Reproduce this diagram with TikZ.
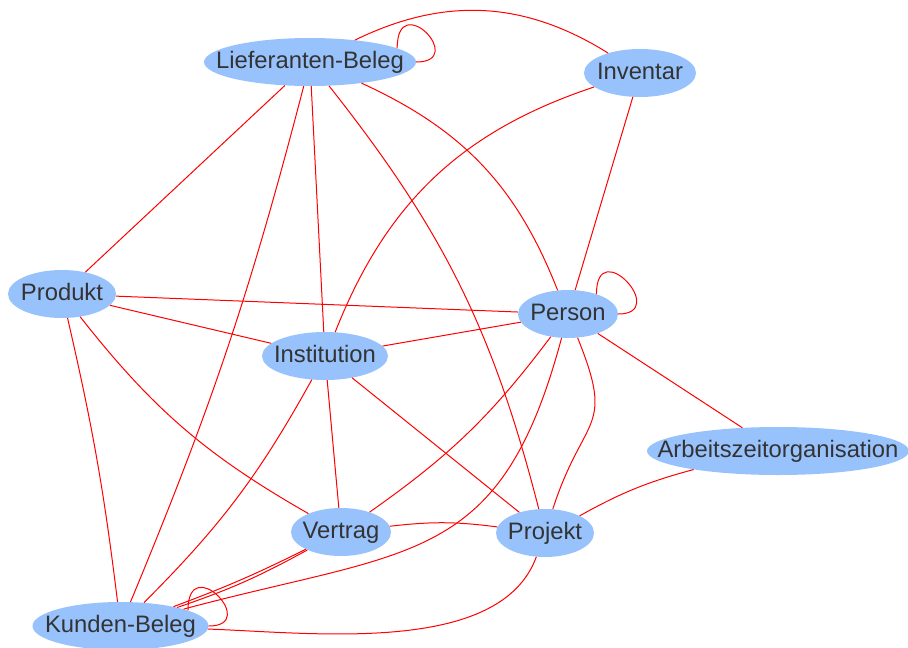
\documentclass[tikz,border=0pt]{standalone}
\usepackage{fontspec}
\setmainfont{Liberation Sans}
\usetikzlibrary{shapes.geometric}

\definecolor{entityblue}{RGB}{152,194,252}
\definecolor{entitytext}{RGB}{51,51,51}

\begin{document}
\begin{tikzpicture}[x=1pt,y=-1pt,
  every node/.style={ellipse,fill=entityblue,text=entitytext,
    inner xsep=-200pt,inner ysep=-50pt,minimum height=48pt,
    text height=17.4pt,text depth=5pt,
    font=\fontsize{23.8}{28}\selectfont},
  every edge/.style={draw,red,line width=1pt},
  selfloop/.style={draw,red,line width=1pt}]
\useasboundingbox (0,0) rectangle (908,648);

\node [minimum width=212pt] (lb) at (310,62) {Lieferanten-Beleg};
\node [minimum width=112pt] (inv) at (640,73) {Inventar}
         edge [out=148,in=26] (lb)
   ;
\node [minimum width=108pt] (prod) at (62,294) {Produkt}
         edge (lb)
   ;
\node [minimum width=100pt] (pers) at (568,314) {Person}
         edge [bend right=22] (lb)
         edge (inv)
         edge (prod)
   ;
\node [minimum width=126pt] (inst) at (325,356) {Institution}
         edge (lb)
         edge [bend left=25] (inv)
         edge (prod)
         edge (pers)
   ;
\node [minimum width=262pt] (azo) at (778,451) {Arbeitszeitorganisation}
         edge (pers)
   ;
\node [minimum width=100pt] (vert) at (341,532) {Vertrag}
         edge [bend left=11] (prod)
         edge (inst)
         edge [bend right=9] (pers)
   ;
\node [minimum width=98pt] (proj) at (545,533) {Projekt}
         edge [bend right=12] (lb)
         edge [out=72,in=-68,looseness=1.5] (pers)
         edge (inst)
         edge [bend left=7] (azo)
         edge [bend right=7] (vert)
   ;
\node [minimum width=176pt] (kb) at (120.5,626) {Kunden-Beleg}
         edge [bend right=4] (lb)
         edge [bend right=3] (prod)
         edge [bend right=8] (inst)
         edge [out=15,in=-105,looseness=1.3] (pers)
         edge [bend right=3] (vert)
         edge [bend right=5] (vert)
         edge [out=-2,in=-110,looseness=0.8] (proj)
   ;

% loops
\draw [selfloop] (lb.9) .. controls +(90:60pt) and +(0:52pt) .. (lb.east);
\draw [selfloop] (pers.35) .. controls +(90:60pt) and +(0:52pt) .. (pers.east);
\draw [selfloop] (kb.13) .. controls +(90:60pt) and +(0:52pt) .. (kb.east);
\end{tikzpicture}
\end{document}
